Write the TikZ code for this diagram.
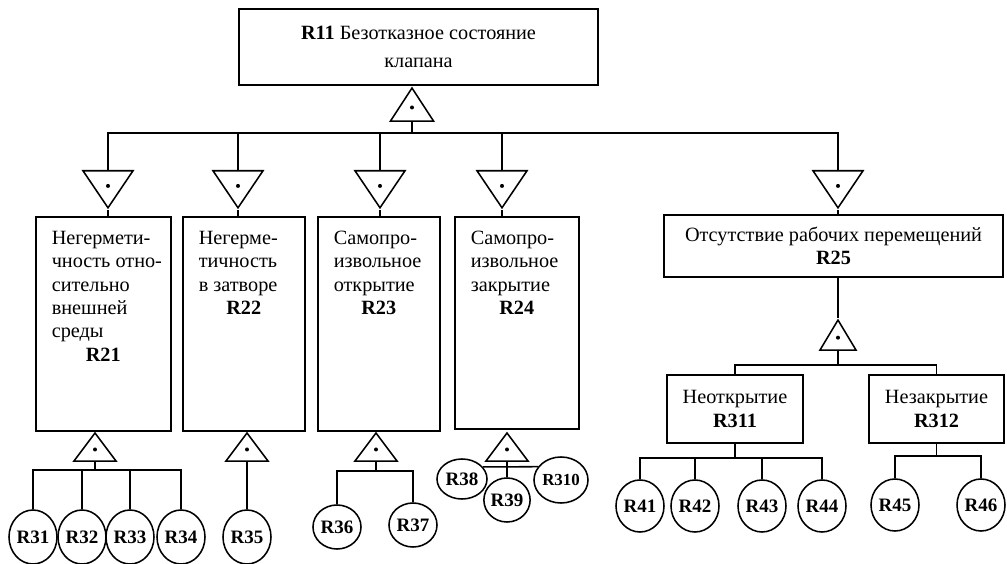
\documentclass[tikz,border=0pt]{standalone}
\usepackage{fontspec}
\setmainfont{Liberation Serif}
\usetikzlibrary{calc,shapes.geometric}
\tikzset{
 ft wire/.style={line width=1.1pt},
 ft box/.style={draw,line width=1.1pt,rectangle,inner sep=2pt,align=center,
                font=\fontsize{14.4pt}{16.7pt}\selectfont},
 ft tall box/.style={draw,line width=1.1pt,rectangle,anchor=north west,inner sep=0pt,
                font=\fontsize{14.4pt}{16.7pt}\selectfont},
 ft gate/.style={isosceles triangle,isosceles triangle stretches,draw,
                 line width=1.1pt,inner sep=0pt},
 ft gate up/.style={ft gate,shape border rotate=90,anchor=apex,
                    minimum width=1.05cm,minimum height=.75cm},
 ft gate down/.style={ft gate,shape border rotate=270,anchor=lower side,
                      minimum width=1.25cm,minimum height=.925cm},
 ft event/.style={ellipse,draw,line width=1.1pt,inner sep=0pt,
                  minimum width=1.2cm,minimum height=1.3cm,
                  font=\fontsize{13.5pt}{14pt}\selectfont\bfseries}
}
% text of a tall column box: lines at top, label centred under them
\newcommand{\ftcol}[4]{\parbox[c][#1][t]{#2}{\raggedright\leftskip=.4cm\relax
  \vspace*{.35cm}#3\par\centering\textbf{#4}}}

\begin{document}
\begin{tikzpicture}[x=.025cm,y=-.025cm]
 \useasboundingbox (0,0) rectangle (1007,564);
 % top event
 \node[ft box,minimum width=8.975cm,minimum height=1.9cm] (r11) at (418.5,47)
   {\textbf{R11} Безотказное состояние\\[.12cm]клапана};
 \node[ft gate up,minimum width=1.075cm,minimum height=.825cm] (g11) at (412,86) {};
 \draw[ft wire] (g11.lower side) -- ++(0,11) coordinate (bus11);
 % second level
 \foreach \g/\x in {21/108,22/238,23/380,24/502,25/838}{
   \node[ft gate down] (d\g) at (\x,170) {};
   \draw[ft wire] (d\g.lower side) |- (bus11);
 }
 \node[ft tall box] (r21) at (35,216)
   {\ftcol{5.35cm}{3.375cm}{Негермети-\\чность~отно-\\сительно\\внешней\\среды}{R21}};
 \node[ft tall box] (r22) at (182,216)
   {\ftcol{5.35cm}{3.05cm}{Негерме-\\тичность\\в~затворе}{R22}};
 \node[ft tall box] (r23) at (317,216)
   {\ftcol{5.35cm}{3.05cm}{Самопро-\\извольное\\открытие}{R23}};
 \node[ft tall box] (r24) at (454,216)
   {\ftcol{5.3cm}{3.1cm}{Самопро-\\извольное\\закрытие}{R24}};
 \node[ft box,minimum width=8.475cm,minimum height=1.55cm] (r25) at (833.5,246)
   {Отсутствие рабочих перемещений\\\textbf{R25}};
 \foreach \g in {21,22,23,24,25}{\draw[ft wire] (d\g.apex) -- (d\g.apex |- r\g.north);}
 % gates under the columns
 \foreach \g/\x in {21/95,22/247,23/376,24/507}{
   \node[ft gate up,minimum height=.7cm] (u\g) at (\x,431) {};
 }
 \draw[ft wire] (u21.lower side) -- ++(0,8) coordinate (bus21);
 \foreach \e/\x in {31/33,32/82,33/130,34/181}{
   \node[ft event,minimum height=1.35cm] (r\e) at (\x,537) {R\e};
   \draw[ft wire] (r\e.north) |- (bus21);
 }
 \node[ft event,minimum height=1.35cm] (r35) at (247,537) {R35};
 \draw[ft wire] (u22.lower side) -- (r35.north);
 \draw[ft wire] (u23.lower side) -- ++(0,9) coordinate (bus23);
 \foreach \e/\x/\y in {36/337/527,37/413/525}{
   \node[ft event,minimum height=1.1cm] (r\e) at (\x,\y) {R\e};
   \draw[ft wire] (r\e.north) |- (bus23);
 }
 \node[ft event,minimum width=1.25cm,minimum height=1cm] (r38) at (462,479) {R38};
 \node[ft event,minimum width=1.15cm,minimum height=1.1cm] (r39) at (507,500) {R39};
 \node[ft event,minimum width=1.35cm,minimum height=1.15cm,
       font=\fontsize{12pt}{13pt}\selectfont\bfseries] (r310) at (561,480) {R310};
 \draw[ft wire] (u24.lower side) -- (r39.north);
 \draw[ft wire] (r38.30) -- (r310.150);
 % third level under R25
 \node[ft gate up,minimum width=.9cm] (u25) at (838,318) {};
 \draw[ft wire] (u25.apex |- r25.south) -- (u25.apex);
 \node[ft box,minimum width=3.4cm,minimum height=1.7cm] (r311) at (735,409)
   {Неоткрытие\\\textbf{R311}};
 \node[ft box,minimum width=3.375cm,minimum height=1.7cm] (r312) at (936.5,409)
   {Незакрытие\\\textbf{R312}};
 \draw[ft wire] (u25.lower side) -- ++(0,14) coordinate (bus25);
 \draw[ft wire] (r311.north) |- (bus25);
 \draw[ft wire] (r312.north) |- (bus25);
 \draw[ft wire] (r311.south) -- ++(0,14) coordinate (bus311);
 \foreach \e/\x in {41/640,42/695,43/762,44/822}{
   \node[ft event] (r\e) at (\x,506) {R\e};
   \draw[ft wire] (r\e.north) |- (bus311);
 }
 \draw[ft wire] (r312.south) -- ++(0,12) coordinate (bus312);
 \foreach \e/\x in {45/895,46/981}{
   \node[ft event] (r\e) at (\x,505) {R\e};
   \draw[ft wire] (r\e.north) |- (bus312);
 }
 % dots in the gates
 \foreach \g in {g11,d21,d22,d23,d24,d25,u21,u22,u23,u24,u25}{
   \fill ($(\g.apex)!.6!(\g.lower side)$) circle (.05cm);
 }
\end{tikzpicture}
\end{document}
